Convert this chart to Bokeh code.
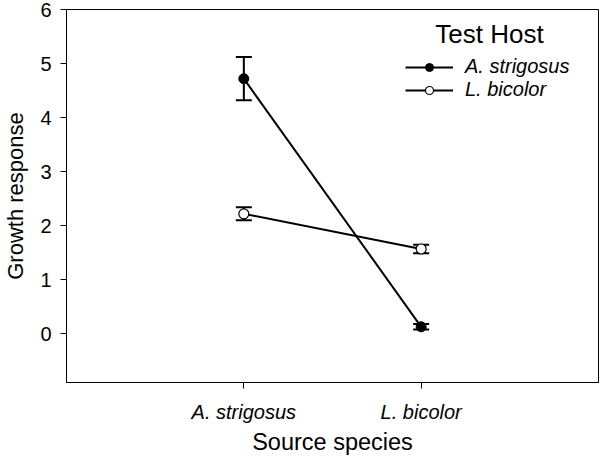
from bokeh.plotting import figure
from bokeh.models import (ColumnDataSource, Whisker, TeeHead, FixedTicker, Legend, LegendItem, Range1d, Label)
from bokeh.embed import file_html
from bokeh.resources import INLINE

# Data
source_species = ["A. strigosus", "L. bicolor"]
x_pos = [1, 2]
host_a_mean = [4.72, 0.13]
host_a_se = [0.40, 0.05]
host_l_mean = [2.22, 1.57]
host_l_se = [0.12, 0.08]
series_names = ["A. strigosus", "L. bicolor"]
legend_title = "Test Host"
y_ticks = [0, 1, 2, 3, 4, 5, 6]

FONT = "Liberation Sans"

p = figure(frame_width=532, frame_height=373, output_backend="svg", toolbar_location=None,
           x_range=Range1d(0, 3), y_range=Range1d(-0.9, 6),
           min_border_left=58, min_border_top=9, min_border_right=2, min_border_bottom=72)
p.background_fill_color = "white"
p.border_fill_color = "white"
p.outline_line_color = "black"
p.outline_line_width = 1
p.grid.visible = False

p.xaxis.ticker = FixedTicker(ticks=x_pos)
p.xaxis.major_label_overrides = {x: s for x, s in zip(x_pos, source_species)}
p.xaxis.major_label_text_font_style = "italic"
p.xaxis.minor_tick_line_color = None
p.yaxis.ticker = FixedTicker(ticks=y_ticks)
p.yaxis.minor_tick_line_color = None

for ax in (p.xaxis[0], p.yaxis[0]):
    ax.major_label_text_font = FONT
    ax.major_label_text_font_size = "20px"
    ax.major_label_text_color = "black"
    ax.axis_label_text_font = FONT
    ax.axis_label_text_font_size = "23.5px"
    ax.axis_label_text_font_style = "normal"
    ax.axis_label_text_color = "black"
    ax.axis_line_color = "black"
    ax.major_tick_line_color = "black"
    ax.major_tick_out = 6
    ax.major_tick_in = 0

p.yaxis.axis_label_text_font_size = "22px"
p.xaxis.axis_label = "Source species"
p.yaxis.axis_label = "Growth response"
p.xaxis.major_label_standoff = 12
p.xaxis.axis_label_standoff = 3
p.yaxis.major_label_standoff = 9
p.yaxis.axis_label_standoff = 9

# error bars
for mean, se in ((host_a_mean, host_a_se), (host_l_mean, host_l_se)):
    src = ColumnDataSource(dict(x=x_pos, lower=[m - s for m, s in zip(mean, se)],
                                upper=[m + s for m, s in zip(mean, se)]))
    w = Whisker(source=src, base="x", lower="lower", upper="upper", dimension="height",
                line_color="black", line_width=2,
                upper_head=TeeHead(size=16, line_color="black", line_width=2),
                lower_head=TeeHead(size=16, line_color="black", line_width=2))
    p.add_layout(w)

src_a = ColumnDataSource(dict(x=x_pos, y=host_a_mean))
src_l = ColumnDataSource(dict(x=x_pos, y=host_l_mean))
la = p.line("x", "y", source=src_a, line_color="black", line_width=2)
sa = p.scatter("x", "y", source=src_a, size=10, fill_color="black", line_color="black", line_width=1)
ll = p.line("x", "y", source=src_l, line_color="black", line_width=2)
sl = p.scatter("x", "y", source=src_l, size=10, fill_color="white", line_color="black", line_width=1.2)

legend = Legend(items=[LegendItem(label=series_names[0], renderers=[la, sa]),
                       LegendItem(label=series_names[1], renderers=[ll, sl])],
                location=(339, 281))
legend.label_text_font = FONT
legend.label_text_font_size = "20px"
legend.label_text_font_style = "italic"
legend.label_text_color = "black"
legend.border_line_color = None
legend.background_fill_alpha = 0
legend.glyph_width = 48
legend.label_height = 20
legend.glyph_height = 20
legend.label_standoff = 12
legend.spacing = -3
legend.margin = 0
legend.padding = 0
p.add_layout(legend)

title = Label(x=2.385, y=5.55, text=legend_title, text_font=FONT, text_font_size="26px",
              text_align="center", text_baseline="middle", text_color="black")
p.add_layout(title)

open("out.html", "w").write(file_html(p, INLINE))
